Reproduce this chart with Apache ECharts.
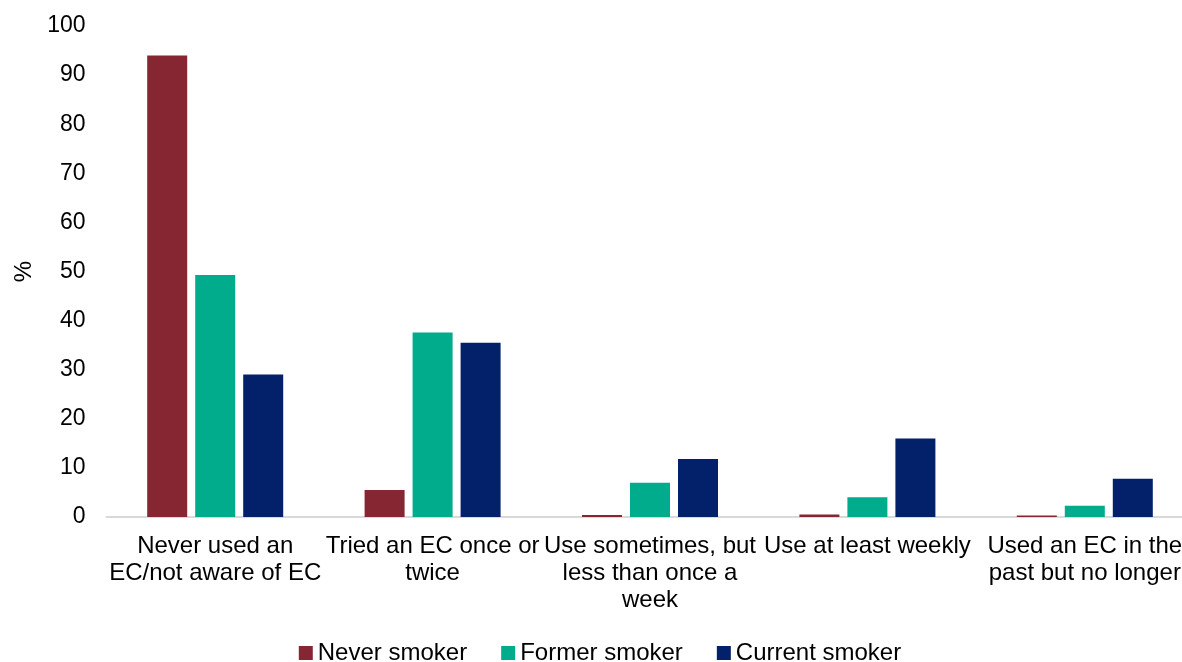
<!DOCTYPE html>
<html>
<head>
<meta charset="utf-8">
<script src="https://cdn.jsdelivr.net/npm/echarts@6/dist/echarts.min.js"></script>
<style>html,body{margin:0;padding:0;background:#fff;overflow:hidden;width:1182px;height:662px}#c{width:1200px;height:662px}</style>
</head>
<body>
<div id="c"></div>
<script>
const categories = [
  "Never used an\nEC/not aware of EC",
  "Tried an EC once or\ntwice",
  "Use sometimes, but\nless than once a\nweek",
  "Use at least weekly",
  "Used an EC in the\npast but no longer"
];
const seriesNames = ["Never smoker", "Former smoker", "Current smoker"];
const neverSmoker = [94, 5.5, 0.4, 0.5, 0.3];
const formerSmoker = [49.3, 37.6, 7.0, 4.0, 2.3];
const currentSmoker = [29, 35.5, 11.8, 16, 7.8];
const yTicks = { min: 0, max: 100, interval: 10 };

const colors = ["#862633", "#00AC8C", "#03216A"];
const font = "'Liberation Sans', Arial, sans-serif";
const chart = echarts.init(document.getElementById('c'));
const mk = (name, data, i) => ({
  name, type: 'bar', data, barWidth: 40, barGap: '20%',
  itemStyle: { color: colors[i] }
});
chart.setOption({
  animation: false,
  textStyle: { fontFamily: font },
  grid: { left: 106.5, top: 26, width: 1087, bottom: 145, containLabel: false },
  xAxis: {
    type: 'category', data: categories,
    axisLine: { lineStyle: { color: '#d9d9d9', width: 2 } },
    axisTick: { show: false },
    axisLabel: { interval: 0, color: '#000', fontSize: 24, fontFamily: font, lineHeight: 27, margin: 16 }
  },
  yAxis: {
    type: 'value', min: yTicks.min, max: yTicks.max, interval: yTicks.interval,
    name: '%', nameLocation: 'middle', nameGap: 70, nameRotate: 90,
    nameTextStyle: { color: '#000', fontSize: 24, fontFamily: font },
    axisLine: { show: false }, axisTick: { show: false }, splitLine: { show: false },
    axisLabel: { color: '#000', fontSize: 23, fontFamily: font, margin: 21 }
  },
  legend: {
    bottom: -8, left: 'center', itemWidth: 14, itemHeight: 14, itemGap: 34,
    icon: 'rect',
    textStyle: { color: '#000', fontSize: 24, fontFamily: font },
    data: seriesNames
  },
  series: [
    mk(seriesNames[0], neverSmoker, 0),
    mk(seriesNames[1], formerSmoker, 1),
    mk(seriesNames[2], currentSmoker, 2)
  ]
});
</script>
</body>
</html>
